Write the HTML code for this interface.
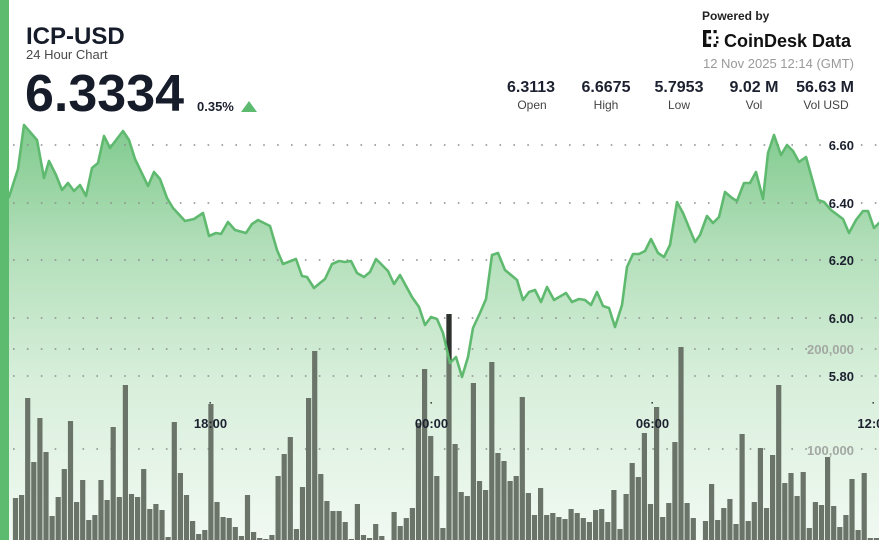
<!DOCTYPE html>
<html>
<head>
<meta charset="utf-8">
<style>
html,body{margin:0;padding:0;background:#fff;}
body{width:879px;height:540px;overflow:hidden;}
svg{display:block;font-family:"Liberation Sans",sans-serif;}
</style>
</head>
<body>
<svg width="879" height="540" viewBox="0 0 879 540" xmlns="http://www.w3.org/2000/svg">
<defs>
<linearGradient id="ag" gradientUnits="userSpaceOnUse" x1="0" y1="125" x2="0" y2="540">
<stop offset="0" stop-color="#80ca8e"/>
<stop offset="0.3" stop-color="#b3dfba"/>
<stop offset="0.62" stop-color="#d8efdb"/>
<stop offset="1" stop-color="#f1f9f2"/>
</linearGradient>
<clipPath id="above">
<path d="M380 0 L520 0 L520 280 L505 270 L498 253 L492 255 L486 299 L480 313 L473 328 L468 357 L462 377 L456 357 L450 363 L443 333 L437 319 L431 317 L425 325 L380 325 Z"/>
</clipPath>
</defs>

<path fill="url(#ag)" d="M9 197 L18 169 L24 125 L37 140 L44 178 L49 161 L56 175 L62 190 L68 183 L74 191 L80 185 L86 196 L92 168 L98 163 L104 136 L110 148 L123 131 L129 140 L135 159 L148 186 L154 172 L160 179 L167 198 L173 208 L185 221 L194 219 L203 213 L209 236 L216 233 L221 234 L228 222 L235 230 L246 233 L252 224 L258 220 L270 226 L277 250 L283 264 L296 259 L302 276 L307 277 L314 288 L320 283 L325 279 L332 264 L339 261 L345 262 L351 261 L357 273 L364 277 L370 272 L376 259 L382 265 L388 271 L394 284 L400 275 L412 297 L419 307 L425 325 L431 317 L437 319 L443 333 L450 363 L456 357 L462 377 L468 357 L473 328 L480 313 L486 299 L492 255 L498 253 L505 270 L517 280 L523 300 L529 292 L535 290 L541 302 L547 287 L554 300 L566 293 L572 302 L579 299 L585 300 L591 305 L597 292 L603 306 L609 308 L615 327 L622 305 L627 267 L633 254 L639 254 L645 251 L651 239 L658 253 L664 257 L670 245 L677 202 L683 213 L695 242 L700 235 L707 216 L713 223 L719 217 L725 192 L732 198 L737 201 L744 183 L750 183 L756 172 L763 199 L768 153 L774 135 L781 155 L787 145 L793 151 L799 162 L806 157 L818 200 L824 202 L831 210 L843 219 L849 233 L856 220 L863 211 L868 211 L874 228 L879 223 L879 540 L9 540 Z"/>

<g stroke="#8c8c8c" stroke-width="1.6" stroke-dasharray="1.6 12.3">
<line x1="13" y1="145" x2="879" y2="145"/>
<line x1="13" y1="203" x2="879" y2="203"/>
<line x1="13" y1="260" x2="879" y2="260"/>
<line x1="13" y1="318" x2="879" y2="318"/>
<line x1="13" y1="349" x2="879" y2="349"/>
<line x1="13" y1="376" x2="879" y2="376"/>
<line x1="13" y1="449" x2="879" y2="449"/>
</g>

<path fill="#6b7468" d="M12.9 498h5.2V542h-5.2z M19 495h5.2V542h-5.2z M25.1 398h5.2V542h-5.2z M31.2 462h5.2V542h-5.2z M37.3 418h5.2V542h-5.2z M43.4 452h5.2V542h-5.2z M49.5 516h5.2V542h-5.2z M55.6 497h5.2V542h-5.2z M61.7 469h5.2V542h-5.2z M67.9 421h5.2V542h-5.2z M74 502h5.2V542h-5.2z M80.1 480h5.2V542h-5.2z M86.2 520h5.2V542h-5.2z M92.3 515h5.2V542h-5.2z M98.4 480h5.2V542h-5.2z M104.5 500h5.2V542h-5.2z M110.6 427h5.2V542h-5.2z M116.7 497h5.2V542h-5.2z M122.8 385h5.2V542h-5.2z M128.9 494h5.2V542h-5.2z M135 497h5.2V542h-5.2z M141.1 469h5.2V542h-5.2z M147.2 509h5.2V542h-5.2z M153.3 504h5.2V542h-5.2z M159.4 510h5.2V542h-5.2z M165.5 537h5.2V542h-5.2z M171.7 422h5.2V542h-5.2z M177.8 473h5.2V542h-5.2z M183.9 495h5.2V542h-5.2z M190 521h5.2V542h-5.2z M196.1 534h5.2V542h-5.2z M202.2 530h5.2V542h-5.2z M208.3 404h5.2V542h-5.2z M214.4 502h5.2V542h-5.2z M220.5 517h5.2V542h-5.2z M226.6 518h5.2V542h-5.2z M232.7 527h5.2V542h-5.2z M238.8 536h5.2V542h-5.2z M244.9 495h5.2V542h-5.2z M251 532h5.2V542h-5.2z M257.1 538h5.2V542h-5.2z M263.2 539h5.2V542h-5.2z M269.3 535h5.2V542h-5.2z M275.5 476h5.2V542h-5.2z M281.6 454h5.2V542h-5.2z M287.7 437h5.2V542h-5.2z M293.8 529h5.2V542h-5.2z M299.9 487h5.2V542h-5.2z M306 398h5.2V542h-5.2z M312.1 351h5.2V542h-5.2z M318.2 474h5.2V542h-5.2z M324.3 501h5.2V542h-5.2z M330.4 511h5.2V542h-5.2z M336.5 511h5.2V542h-5.2z M342.6 522h5.2V542h-5.2z M348.7 539h5.2V542h-5.2z M354.8 504h5.2V542h-5.2z M360.9 535h5.2V542h-5.2z M367 538h5.2V542h-5.2z M373.1 524h5.2V542h-5.2z M379.2 536h5.2V542h-5.2z M391.5 512h5.2V542h-5.2z M397.6 526h5.2V542h-5.2z M403.7 518h5.2V542h-5.2z M409.8 508h5.2V542h-5.2z M415.9 423h5.2V542h-5.2z M422 369h5.2V542h-5.2z M428.1 436h5.2V542h-5.2z M434.2 476h5.2V542h-5.2z M440.3 528h5.2V542h-5.2z M446.4 314h5.2V542h-5.2z M452.5 444h5.2V542h-5.2z M458.6 492h5.2V542h-5.2z M464.7 496h5.2V542h-5.2z M470.8 383h5.2V542h-5.2z M476.9 481h5.2V542h-5.2z M483 490h5.2V542h-5.2z M489.2 362h5.2V542h-5.2z M495.3 453h5.2V542h-5.2z M501.4 461h5.2V542h-5.2z M507.5 481h5.2V542h-5.2z M513.6 476h5.2V542h-5.2z M519.7 397h5.2V542h-5.2z M525.8 493h5.2V542h-5.2z M531.9 515h5.2V542h-5.2z M538 488h5.2V542h-5.2z M544.1 515h5.2V542h-5.2z M550.2 513h5.2V542h-5.2z M556.3 517h5.2V542h-5.2z M562.4 519h5.2V542h-5.2z M568.5 509h5.2V542h-5.2z M574.6 513h5.2V542h-5.2z M580.7 518h5.2V542h-5.2z M586.8 522h5.2V542h-5.2z M593 510h5.2V542h-5.2z M599.1 509h5.2V542h-5.2z M605.2 522h5.2V542h-5.2z M611.3 490h5.2V542h-5.2z M617.4 529h5.2V542h-5.2z M623.5 494h5.2V542h-5.2z M629.6 463h5.2V542h-5.2z M635.7 477h5.2V542h-5.2z M641.8 433h5.2V542h-5.2z M647.9 504h5.2V542h-5.2z M654 407h5.2V542h-5.2z M660.1 517h5.2V542h-5.2z M666.2 503h5.2V542h-5.2z M672.3 442h5.2V542h-5.2z M678.4 347h5.2V542h-5.2z M684.5 503h5.2V542h-5.2z M690.7 518h5.2V542h-5.2z M702.9 521h5.2V542h-5.2z M709 484h5.2V542h-5.2z M715.1 520h5.2V542h-5.2z M721.2 508h5.2V542h-5.2z M727.3 499h5.2V542h-5.2z M733.4 524h5.2V542h-5.2z M739.5 434h5.2V542h-5.2z M745.6 521h5.2V542h-5.2z M751.7 502h5.2V542h-5.2z M757.8 448h5.2V542h-5.2z M763.9 508h5.2V542h-5.2z M770 455h5.2V542h-5.2z M776.1 385h5.2V542h-5.2z M782.2 483h5.2V542h-5.2z M788.4 473h5.2V542h-5.2z M794.5 496h5.2V542h-5.2z M800.6 472h5.2V542h-5.2z M806.7 528h5.2V542h-5.2z M812.8 502h5.2V542h-5.2z M818.9 505h5.2V542h-5.2z M825 457h5.2V542h-5.2z M831.1 506h5.2V542h-5.2z M837.2 527h5.2V542h-5.2z M843.3 515h5.2V542h-5.2z M849.4 479h5.2V542h-5.2z M855.5 530h5.2V542h-5.2z M861.6 473h5.2V542h-5.2z M867.7 538h5.2V542h-5.2z M873.8 538h5.2V542h-5.2z"/>
<rect x="446.4" y="314" width="5.2" height="60" fill="#2e322e" clip-path="url(#above)"/>

<path fill="none" stroke="#5fba70" stroke-width="2.6" stroke-linejoin="round" stroke-linecap="round" d="M9 197 L18 169 L24 125 L37 140 L44 178 L49 161 L56 175 L62 190 L68 183 L74 191 L80 185 L86 196 L92 168 L98 163 L104 136 L110 148 L123 131 L129 140 L135 159 L148 186 L154 172 L160 179 L167 198 L173 208 L185 221 L194 219 L203 213 L209 236 L216 233 L221 234 L228 222 L235 230 L246 233 L252 224 L258 220 L270 226 L277 250 L283 264 L296 259 L302 276 L307 277 L314 288 L320 283 L325 279 L332 264 L339 261 L345 262 L351 261 L357 273 L364 277 L370 272 L376 259 L382 265 L388 271 L394 284 L400 275 L412 297 L419 307 L425 325 L431 317 L437 319 L443 333 L450 363 L456 357 L462 377 L468 357 L473 328 L480 313 L486 299 L492 255 L498 253 L505 270 L517 280 L523 300 L529 292 L535 290 L541 302 L547 287 L554 300 L566 293 L572 302 L579 299 L585 300 L591 305 L597 292 L603 306 L609 308 L615 327 L622 305 L627 267 L633 254 L639 254 L645 251 L651 239 L658 253 L664 257 L670 245 L677 202 L683 213 L695 242 L700 235 L707 216 L713 223 L719 217 L725 192 L732 198 L737 201 L744 183 L750 183 L756 172 L763 199 L768 153 L774 135 L781 155 L787 145 L793 151 L799 162 L806 157 L818 200 L824 202 L831 210 L843 219 L849 233 L856 220 L863 211 L868 211 L874 228 L879 223"/>

<rect x="0" y="0" width="9" height="540" fill="#5dbb6f"/>

<g font-size="13" font-weight="bold" fill="#1c2130" text-anchor="end">
<text x="854" y="150">6.60</text>
<text x="854" y="208">6.40</text>
<text x="854" y="265">6.20</text>
<text x="854" y="323">6.00</text>
<text x="854" y="381">5.80</text>
</g>
<g font-size="13" font-weight="bold" fill="#a3a8a3" text-anchor="end">
<text x="854" y="354">200,000</text>
<text x="854" y="455">100,000</text>
</g>
<g fill="#2a2e2a">
<rect x="209.5" y="402" width="1.4" height="1.6"/>
<rect x="430.5" y="402" width="1.4" height="1.6"/>
<rect x="651.5" y="402" width="1.4" height="1.6"/>
<rect x="872.5" y="402" width="1.4" height="1.6"/>
</g>
<g font-size="13" font-weight="bold" fill="#1c2130" text-anchor="middle">
<text x="210.5" y="428">18:00</text>
<text x="431.5" y="428">00:00</text>
<text x="652.5" y="428">06:00</text>
<text x="874" y="428">12:00</text>
</g>

<text x="26" y="44" font-size="24" font-weight="bold" fill="#161c2a">ICP-USD</text>
<text x="26" y="59" font-size="13" fill="#4a4a4a">24 Hour Chart</text>
<text x="25" y="111" font-size="52" font-weight="bold" fill="#161c2a">6.3334</text>
<text x="197" y="111" font-size="13" font-weight="bold" fill="#1c2130">0.35%</text>
<polygon points="241,112 257,112 249,101" fill="#5dbb6f"/>

<text x="702" y="20" font-size="12" font-weight="bold" fill="#222">Powered by</text>
<g fill="#111">
<rect x="703" y="30" width="3.4" height="17"/>
<rect x="703" y="30" width="8" height="3.2"/>
<rect x="703" y="43.8" width="8" height="3.2"/>
<rect x="713.5" y="30" width="3.2" height="3.2"/>
<rect x="713.5" y="43.8" width="3.2" height="3.2"/>
<rect x="708.5" y="36.5" width="2.8" height="2.8"/>
<rect x="716" y="36.5" width="2.4" height="2.4"/>
<rect x="716" y="41" width="2.4" height="2.4"/>
</g>
<text x="724" y="47" font-size="18" font-weight="bold" fill="#111">CoinDesk Data</text>
<text x="854" y="68" font-size="13" fill="#9a9a9a" text-anchor="end">12 Nov 2025 12:14 (GMT)</text>

<g font-size="16" font-weight="bold" fill="#1c2130" text-anchor="middle">
<text x="531" y="92">6.3113</text>
<text x="606" y="92">6.6675</text>
<text x="679" y="92">5.7953</text>
<text x="754" y="92">9.02 M</text>
<text x="825" y="92">56.63 M</text>
</g>
<g font-size="12" fill="#444" text-anchor="middle">
<text x="532" y="109">Open</text>
<text x="606" y="109">High</text>
<text x="679" y="109">Low</text>
<text x="754" y="109">Vol</text>
<text x="826" y="109">Vol USD</text>
</g>
</svg>
</body>
</html>
